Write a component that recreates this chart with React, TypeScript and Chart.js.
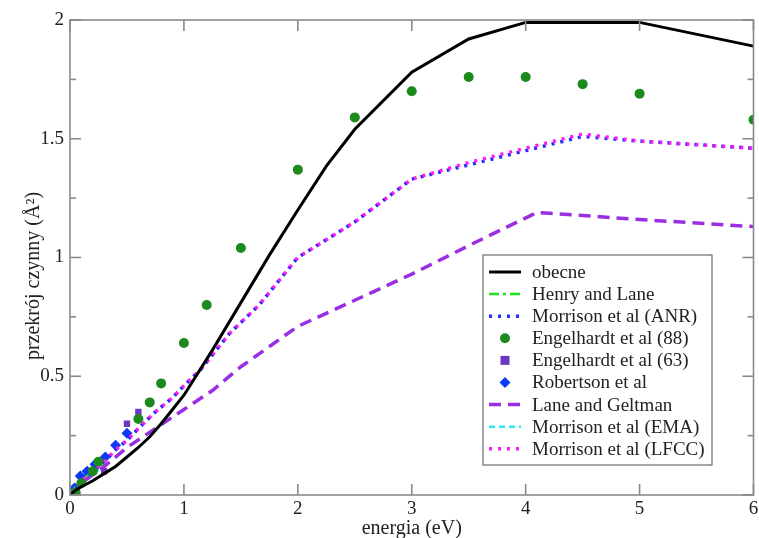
import React, { useEffect, useRef } from "react";
import { Chart, registerables } from "chart.js";

Chart.register(...registerables);

const FONT = '"Liberation Serif", "DejaVu Serif", "Times New Roman", serif';

// ---- data ----
const xTickValues = [0, 1, 2, 3, 4, 5, 6];
const yTickValues = [0, 0.5, 1, 1.5, 2];
const yMinorTicks = [0.25, 0.75, 1.25, 1.75];

const obecneE = [0.01, 0.05, 0.1, 0.2, 0.3, 0.4, 0.5, 0.6, 0.7, 0.8, 0.9, 1, 1.25, 1.5, 1.75, 2, 2.25, 2.5, 3, 3.5, 4, 5, 6];
const obecneY = [0.005, 0.02, 0.035, 0.06, 0.09, 0.12, 0.16, 0.2, 0.245, 0.3, 0.36, 0.42, 0.61, 0.81, 1.01, 1.2, 1.385, 1.54, 1.78, 1.92, 1.99, 1.99, 1.89];

const henryE = [0.01, 0.05, 0.1, 0.2, 0.3];
const henryY = [0.01, 0.035, 0.06, 0.1, 0.13];

const anrE = [0.01, 0.1, 0.2, 0.3, 0.4, 0.5, 0.6, 0.75, 0.9, 1.0, 1.15, 1.4, 1.66, 2, 2.5, 3, 3.5, 4, 4.5, 5, 6];
const anrY = [0.01, 0.06, 0.1, 0.14, 0.19, 0.23, 0.28, 0.35, 0.41, 0.46, 0.53, 0.68, 0.8, 1.0, 1.15, 1.33, 1.39, 1.45, 1.51, 1.49, 1.46];

const eng88E = [0.05, 0.1, 0.2, 0.25, 0.6, 0.7, 0.8, 1, 1.2, 1.5, 2, 2.5, 3, 3.5, 4, 4.5, 5, 6];
const eng88Y = [0.01, 0.05, 0.1, 0.14, 0.32, 0.39, 0.47, 0.64, 0.8, 1.04, 1.37, 1.59, 1.7, 1.76, 1.76, 1.73, 1.69, 1.58];

const eng63E = [0.05, 0.1, 0.15, 0.3, 0.5, 0.6];
const eng63Y = [0.03, 0.07, 0.09, 0.1, 0.3, 0.35];

const robE = [0.04, 0.09, 0.15, 0.22, 0.31, 0.4, 0.5];
const robY = [0.03, 0.08, 0.1, 0.13, 0.16, 0.21, 0.26];

const laneE = [0.01, 0.1, 0.3, 0.5, 0.75, 1, 1.25, 1.5, 2, 2.5, 3, 3.5, 4.1, 5, 6];
const laneY = [0.005, 0.05, 0.12, 0.2, 0.28, 0.36, 0.44, 0.54, 0.71, 0.82, 0.93, 1.05, 1.19, 1.16, 1.13];

const emaE = [0.01, 0.1, 0.2, 0.3];
const emaY = [0.01, 0.055, 0.09, 0.12];

const lfccE = anrE;
const lfccY = [0.01, 0.06, 0.1, 0.14, 0.19, 0.23, 0.28, 0.35, 0.41, 0.46, 0.53, 0.68, 0.8, 1.0, 1.15, 1.33, 1.4, 1.46, 1.52, 1.49, 1.46];

const seriesLabels = [
  "obecne",
  "Henry and Lane",
  "Morrison et al (ANR)",
  "Engelhardt et al (88)",
  "Engelhardt et al (63)",
  "Robertson et al",
  "Lane and Geltman",
  "Morrison et al (EMA)",
  "Morrison et al (LFCC)",
];

const xTitle = "energia (eV)";
const yTitle = "przekrój czynny (Å²)";

function pts(xs: number[], ys: number[]) {
  return xs.map((x, i) => ({ x, y: ys[i] }));
}

export default function App() {
  const ref = useRef<HTMLCanvasElement | null>(null);

  useEffect(() => {
    const canvas = ref.current;
    if (!canvas) return;

    const lineDS = (label: string, data: any[], color: string, width: number, dash: number[], offset = 0) => ({
      label,
      data,
      showLine: true,
      borderColor: color,
      backgroundColor: color,
      borderWidth: width,
      borderDash: dash,
      borderDashOffset: offset,
      pointRadius: 0,
      pointHoverRadius: 0,
      tension: 0,
      kind: "line",
    });
    const markDS = (label: string, data: any[], color: string, style: string, radius: number) => ({
      label,
      data,
      showLine: false,
      borderColor: color,
      backgroundColor: color,
      borderWidth: 0,
      pointStyle: style,
      pointRadius: radius,
      kind: "mark",
    });

    const datasets: any[] = [
      lineDS(seriesLabels[0], pts(obecneE, obecneY), "#000000", 3, []),
      lineDS(seriesLabels[1], pts(henryE, henryY), "#22e022", 2.5, [10, 4, 3, 4]),
      lineDS(seriesLabels[2], pts(anrE, anrY), "#1f2cff", 3.5, [3, 6], 2),
      markDS(seriesLabels[3], pts(eng88E, eng88Y), "#1d8a1d", "circle", 5),
      markDS(seriesLabels[4], pts(eng63E, eng63Y), "#6a3ac4", "rect", 4.5),
      markDS(seriesLabels[5], pts(robE, robY), "#0a3af5", "rectRot", 5.5),
      lineDS(seriesLabels[6], pts(laneE, laneY), "#9a2ee2", 3.5, [12, 7]),
      lineDS(seriesLabels[7], pts(emaE, emaY), "#30e8ee", 2.5, [6, 4]),
      lineDS(seriesLabels[8], pts(lfccE, lfccY), "#ff1cf0", 3.5, [3, 6], 0),
    ];
    const drawOrder = [2, 5, 4, 3, 6, 5, 4, 7, 3];
    datasets.forEach((d, i) => (d.order = drawOrder[i]));

    const framePlugin = {
      id: "frameTicks",
      afterDatasetsDraw(chart: any) {
        const { ctx, chartArea: a, scales } = chart;
        const x = scales.x;
        const y = scales.y;
        ctx.save();
        ctx.strokeStyle = "#8a8a8a";
        ctx.lineWidth = 1.6;
        ctx.strokeRect(a.left, a.top, a.right - a.left, a.bottom - a.top);
        const seg = (x1: number, y1: number, x2: number, y2: number) => {
          ctx.beginPath();
          ctx.moveTo(x1, y1);
          ctx.lineTo(x2, y2);
          ctx.stroke();
        };
        for (const v of xTickValues) {
          const p = x.getPixelForValue(v);
          seg(p, a.bottom, p, a.bottom - 11);
          seg(p, a.top, p, a.top + 11);
        }
        for (const v of yTickValues) {
          const p = y.getPixelForValue(v);
          seg(a.left, p, a.left + 11, p);
          seg(a.right, p, a.right - 11, p);
        }
        for (const v of yMinorTicks) {
          const p = y.getPixelForValue(v);
          seg(a.left, p, a.left + 6, p);
          seg(a.right, p, a.right - 6, p);
        }
        ctx.restore();
      },
      afterDraw(chart: any) {
        const { ctx, chartArea: a } = chart;
        ctx.save();
        ctx.fillStyle = "#222";
        ctx.font = `20px ${FONT}`;
        ctx.textAlign = "center";
        ctx.textBaseline = "middle";
        ctx.fillText(xTitle, (a.left + a.right) / 2, a.bottom + 34);
        ctx.save();
        ctx.font = `20px ${FONT}`;
        ctx.translate(a.left - 36, a.top + 256);
        ctx.rotate(-Math.PI / 2);
        ctx.fillText(yTitle, 0, 0);
        ctx.restore();

        // legend
        const lx = a.left + 413;
        const ly = a.top + 235;
        const lw = 229;
        const lh = 210;
        ctx.fillStyle = "#ffffff";
        ctx.fillRect(lx, ly, lw, lh);
        ctx.strokeStyle = "#6a6a6a";
        ctx.lineWidth = 1.2;
        ctx.strokeRect(lx, ly, lw, lh);
        const rowH = 22.1;
        chart.data.datasets.forEach((d: any, i: number) => {
          const cy = ly + 17 + i * rowH;
          const sx = lx + 6;
          const ex = lx + 38;
          if (d.kind === "line") {
            ctx.save();
            ctx.strokeStyle = d.borderColor;
            ctx.lineWidth = d.borderWidth;
            ctx.setLineDash(d.borderDash || []);
            ctx.lineDashOffset = 0;
            ctx.beginPath();
            ctx.moveTo(sx, cy);
            ctx.lineTo(ex, cy);
            ctx.stroke();
            ctx.restore();
          } else {
            ctx.save();
            ctx.fillStyle = d.backgroundColor;
            const cx = (sx + ex) / 2;
            const r = d.pointRadius;
            ctx.beginPath();
            if (d.pointStyle === "circle") {
              ctx.arc(cx, cy, r, 0, Math.PI * 2);
            } else if (d.pointStyle === "rect") {
              ctx.rect(cx - r, cy - r, 2 * r, 2 * r);
            } else {
              ctx.moveTo(cx, cy - r);
              ctx.lineTo(cx + r, cy);
              ctx.lineTo(cx, cy + r);
              ctx.lineTo(cx - r, cy);
              ctx.closePath();
            }
            ctx.fill();
            ctx.restore();
          }
          ctx.fillStyle = "#222";
          ctx.font = `19px ${FONT}`;
          ctx.textAlign = "left";
          ctx.textBaseline = "middle";
          ctx.fillText(d.label, lx + 49, cy + 1);
        });
        ctx.restore();
      },
    };

    const chart = new Chart(canvas, {
      type: "scatter",
      data: { datasets },
      options: {
        animation: false,
        responsive: false,
        maintainAspectRatio: false,
        events: [],
        layout: { padding: { top: 20, right: 4, left: 0, bottom: 0 } },
        plugins: {
          legend: { display: false },
          tooltip: { enabled: false },
        },
        scales: {
          x: {
            type: "linear",
            min: 0,
            max: 6,
            grid: { display: false, drawTicks: false },
            border: { display: false },
            ticks: {
              stepSize: 1,
              padding: 3,
              color: "#222",
              font: { family: FONT, size: 19 },
              maxRotation: 0,
              autoSkip: false,
              callback: (v: any) => String(v),
            },
            afterFit(scale: any) {
              scale.height = 43;
              scale.paddingLeft = 0;
              scale.paddingRight = 0;
            },
          },
          y: {
            type: "linear",
            min: 0,
            max: 2,
            grid: { display: false, drawTicks: false },
            border: { display: false },
            ticks: {
              stepSize: 0.5,
              padding: 6,
              color: "#222",
              font: { family: FONT, size: 19 },
              callback: (v: any) => String(Number(v)),
            },
            afterFit(scale: any) {
              scale.width = 70;
              scale.paddingTop = 0;
              scale.paddingBottom = 0;
            },
          },
        },
      } as any,
      plugins: [framePlugin],
    });

    return () => chart.destroy();
  }, []);

  return (
    <div style={{ position: "fixed", left: 0, top: 0, width: 759, height: 538, background: "#fff" }}>
      <canvas ref={ref} width={759} height={538} style={{ display: "block", width: 759, height: 538 }} />
    </div>
  );
}
